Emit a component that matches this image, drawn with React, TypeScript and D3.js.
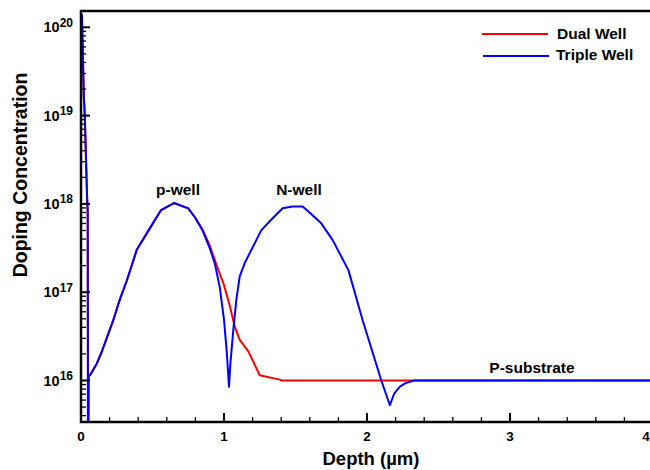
import React from "react";
import * as d3 from "d3";

// Depth in µm, log10 of net doping concentration (cm^-3)
const tripleDepth = [
  0.006, 0.012, 0.02, 0.024, 0.03, 0.036, 0.042, 0.047, 0.048, 0.049, 0.051, 0.053,
  0.063, 0.11, 0.144, 0.18, 0.225, 0.27, 0.32, 0.39, 0.48, 0.56, 0.65, 0.75, 0.8,
  0.85, 0.9, 0.935, 0.97, 1.0, 1.02, 1.035, 1.045, 1.065, 1.086, 1.11, 1.145, 1.26,
  1.33, 1.41, 1.48, 1.55, 1.6, 1.68, 1.76, 1.87, 1.97, 2.1, 2.16, 2.19, 2.23, 2.27,
  2.33, 2.37, 4.0,
];
const tripleLog = [
  20.15, 19.75, 19.2, 19.1, 18.8, 18.45, 18.1, 17.9, 16.5, 15.0, 15.0, 16.05,
  16.06, 16.19, 16.32, 16.48, 16.68, 16.91, 17.13, 17.48, 17.72, 17.93, 18.01, 17.95, 17.84,
  17.7, 17.5, 17.33, 17.06, 16.69, 16.31, 15.93, 16.2, 16.57, 16.91, 17.18, 17.33, 17.7,
  17.82, 17.95, 17.97, 17.97, 17.9, 17.78, 17.59, 17.25, 16.68, 16.0, 15.72, 15.85, 15.93, 15.97,
  16.0, 16.0, 16.0,
];

const dualDepth = [
  0.006, 0.012, 0.02, 0.024, 0.03, 0.036, 0.042, 0.047, 0.048, 0.049, 0.051, 0.053,
  0.063, 0.11, 0.144, 0.18, 0.225, 0.27, 0.32, 0.39, 0.48, 0.56, 0.65, 0.75, 0.8,
  0.85, 0.9, 0.95, 1.0, 1.04, 1.075, 1.11, 1.17, 1.25, 1.39, 1.4, 4.0,
];
const dualLog = [
  20.15, 19.75, 19.2, 19.1, 18.8, 18.45, 18.1, 17.9, 16.5, 15.0, 15.0, 16.05,
  16.06, 16.19, 16.32, 16.48, 16.68, 16.91, 17.13, 17.48, 17.72, 17.93, 18.01, 17.95, 17.84,
  17.71, 17.53, 17.3, 17.08, 16.85, 16.61, 16.46, 16.33, 16.06, 16.01, 16.0, 16.0,
];

const xTicks = [0, 1, 2, 3, 4];
const yExponents = [16, 17, 18, 19, 20];

const W = 650;
const H = 470;
const left = 81;
const right = 653;
const top = 11;
const bottom = 422;

const FONT = "'Liberation Sans', Arial, sans-serif";

export default function App() {
  const x = d3.scaleLinear().domain([0, 4]).range([left, right]);
  const y = d3
    .scaleLog()
    .domain([Math.pow(10, 16 - (bottom - 380.5) / 88.3), Math.pow(10, 16 + (380.5 - top) / 88.3)])
    .range([bottom, top]);

  const line = d3
    .line<[number, number]>()
    .x((d) => x(d[0]))
    .y((d) => y(Math.pow(10, d[1])));

  const dualPts: [number, number][] = dualDepth.map((d, i) => [d, dualLog[i]]);
  const triplePts: [number, number][] = tripleDepth.map((d, i) => [d, tripleLog[i]]);

  const xMinor = d3.range(0, 4.0001, 0.2).filter((v) => Math.abs(v - Math.round(v)) > 1e-6);
  const yMinor: number[] = [];
  const [y0, y1] = y.domain();
  for (let e = 15; e <= 20; e++) {
    for (let m = 2; m <= 9; m++) {
      const v = m * Math.pow(10, e);
      if (v >= y0 && v <= y1) yMinor.push(v);
    }
  }

  return (
    <svg
      width={W}
      height={H}
      style={{ position: "absolute", left: 0, top: 0, background: "#fff" }}
    >
      <defs>
        <clipPath id="plotClip">
          <rect x={left} y={top} width={right - left} height={bottom - top} />
        </clipPath>
      </defs>
      <rect width={W} height={H} fill="#fff" />

      <g clipPath="url(#plotClip)" fill="none" strokeLinejoin="round">
        <path d={line(dualPts) || ""} stroke="#ff0000" strokeWidth={2} />
        <path d={line(triplePts) || ""} stroke="#0000ff" strokeWidth={2} />
      </g>

      {/* frame */}
      <rect
        x={left}
        y={top}
        width={right - left}
        height={bottom - top}
        fill="none"
        stroke="#000"
        strokeWidth={2.5}
      />

      {/* x ticks */}
      {xTicks.map((t) => (
        <line key={"xt" + t} x1={x(t)} x2={x(t)} y1={bottom} y2={bottom - 9} stroke="#000" strokeWidth={2} />
      ))}
      {xMinor.map((t) => (
        <line key={"xm" + t} x1={x(t)} x2={x(t)} y1={bottom} y2={bottom - 5} stroke="#000" strokeWidth={1.3} />
      ))}
      {xTicks.map((t) => (
        <text
          key={"xl" + t}
          x={Math.min(x(t), 646)}
          y={441}
          textAnchor="middle"
          fontFamily={FONT}
          fontWeight="bold"
          fontSize={13.5}
        >
          {t}
        </text>
      ))}

      {/* y ticks */}
      {yExponents.map((e) => (
        <line
          key={"yt" + e}
          x1={left}
          x2={left + 9}
          y1={y(Math.pow(10, e))}
          y2={y(Math.pow(10, e))}
          stroke="#000"
          strokeWidth={2}
        />
      ))}
      {yMinor.map((v, i) => (
        <line key={"ym" + i} x1={left} x2={left + 5} y1={y(v)} y2={y(v)} stroke="#000" strokeWidth={1.3} />
      ))}
      {yExponents.map((e) => (
        <text
          key={"yl" + e}
          x={73}
          y={y(Math.pow(10, e)) + 5}
          textAnchor="end"
          fontFamily={FONT}
          fontWeight="bold"
          fontSize={14.5}
        >
          10
          <tspan dy={-5.5} fontSize={12}>
            {e}
          </tspan>
        </text>
      ))}

      {/* axis titles */}
      <text
        x={371}
        y={465}
        textAnchor="middle"
        fontFamily={FONT}
        fontWeight="bold"
        fontSize={18.5}
      >
        Depth (µm)
      </text>
      <text
        transform={`translate(27,175) rotate(-90)`}
        textAnchor="middle"
        fontFamily={FONT}
        fontWeight="bold"
        fontSize={19.5}
      >
        Doping Concentration
      </text>

      {/* region labels */}
      <text x={178} y={195} textAnchor="middle" fontFamily={FONT} fontWeight="bold" fontSize={15.5}>
        p-well
      </text>
      <text x={299} y={195} textAnchor="middle" fontFamily={FONT} fontWeight="bold" fontSize={15.5}>
        N-well
      </text>
      <text x={532} y={373} textAnchor="middle" fontFamily={FONT} fontWeight="bold" fontSize={15.5}>
        P-substrate
      </text>

      {/* legend */}
      <line x1={482} x2={548} y1={34} y2={34} stroke="#ff0000" strokeWidth={2} />
      <text x={557} y={38.5} fontFamily={FONT} fontWeight="bold" fontSize={15.5}>
        Dual Well
      </text>
      <line x1={483} x2={549} y1={56} y2={56} stroke="#0000ff" strokeWidth={2} />
      <text x={556} y={60} fontFamily={FONT} fontWeight="bold" fontSize={15.5}>
        Triple Well
      </text>
    </svg>
  );
}
